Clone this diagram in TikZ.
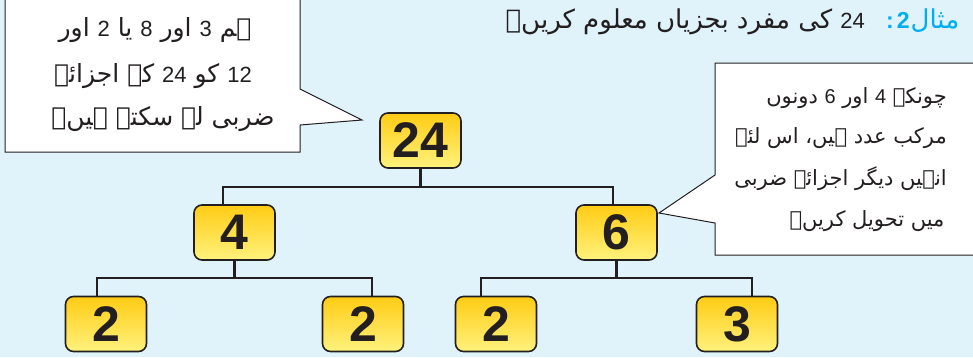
\documentclass[tikz,border=0pt]{standalone}
\usepackage{fontspec}
\setmainfont{Liberation Sans}
\newfontfamily\urdu[Script=Arabic]{DejaVu Sans}
\TeXXeTstate=1
\definecolor{bg}{RGB}{224,243,251}
\definecolor{ink}{RGB}{35,31,32}
\definecolor{ytop}{RGB}{255,204,20}
\definecolor{ybot}{RGB}{255,242,125}
\definecolor{cyanT}{RGB}{0,174,239}
\newcommand{\dg}[1]{\beginL{\rmfamily\fontsize{22}{26}\selectfont #1}\endL{}}
\newcommand{\dgs}[1]{\beginL{\rmfamily\fontsize{20}{24}\selectfont #1}\endL{}}
\tikzset{
  numbox/.style={draw=ink, line width=1.6pt, rounded corners=8pt,
    top color=ytop, bottom color=ybot, minimum width=81pt, minimum height=55pt,
    inner sep=0pt, font=\fontsize{50}{50}\selectfont\bfseries, text=ink},
  conn/.style={draw=ink, line width=2.2pt},
  callout/.style={draw=ink, line width=1pt, fill=white, line join=miter},
  utext/.style={inner sep=0pt, text=ink, font=\urdu\fontsize{25}{30}\selectfont},
  rtext/.style={inner sep=0pt, text=ink, font=\urdu\fontsize{21}{25}\selectfont},
  ttext/.style={inner sep=0pt, font=\urdu\fontsize{26}{30}\selectfont}
}
\begin{document}
\begin{tikzpicture}[x=1pt,y=-1pt]
\useasboundingbox (0,0) rectangle (973,357);
\clip (0,0) rectangle (973,357);
\fill[bg] (0,0) rectangle (973,357);

% title
\node[ttext, text=cyanT, anchor=base west] (title1) at (886,28)
  {\beginR مثال\kern1pt{\rmfamily\bfseries\fontsize{23}{26}\selectfont 2}\kern3pt{\rmfamily\bfseries\fontsize{23}{26}\selectfont :}\endR};
\node[ttext, text=ink, anchor=base east] (title2) at (865,28)
  {\beginR\dg{24}\kern8pt کی مفرد بجزیاں معلوم کریں۔\endR};

% number boxes
\node[numbox] (n24) at (420.5,140.5) {24};
\node[numbox] (n4) at (234.5,232.5) {4};
\node[numbox] (n6) at (616.5,232.5) {6};
\node[numbox] (b1) at (106,324) {2};
\node[numbox] (b2) at (363,324) {2};
\node[numbox] (b3) at (496,324) {2};
\node[numbox] (b4) at (737,324) {3};

% connectors
\coordinate (j1) at (420.5,187);
\coordinate (j2) at (234.5,278);
\coordinate (j3) at (616.5,278);
\draw[conn] (n24.south) -- (j1);
\draw[conn] (j1) -| ([xshift=-11.5pt]n4.north);
\draw[conn] (j1) -| ([xshift=-3.5pt]n6.north);
\draw[conn] (n4.south) -- (j2);
\draw[conn] (j2) -| ([xshift=-9pt]b1.north);
\draw[conn] (j2) -| ([xshift=9pt]b2.north);
\draw[conn] (n6.south) -- (j3);
\draw[conn] (j3) -| ([xshift=-15pt]b3.north);
\draw[conn] (j3) -| ([xshift=15pt]b4.north);

% left callout
\coordinate (tipL) at (362,120);
\draw[callout] (5,-3) -- (300,-3) -- (300,89) -- (tipL) -- (300,125) -- (300,152) -- (5,152) -- cycle;
\node[utext, anchor=base] (l1) at (155,36) {\beginR ہم \dg{3} اور \dg{8} یا \dg{2} اور\endR};
\node[utext, anchor=base] (l2) at (153,82) {\beginR\dg{12} کو \dg{24} کے اجزائے\endR};
\node[utext, anchor=base] (l3) at (163,125) {\beginR ضربی لے سکتے ہیں۔\endR};

% right callout
\coordinate (tipR) at (659,213);
\draw[callout] (715,63) -- (985,63) -- (985,255) -- (715,255) -- (715,223) -- (tipR) -- (715,175) -- cycle;
\node[rtext, anchor=base east] (r1) at (947,103) {\beginR چونکہ \dgs{4} اور \dgs{6} دونوں\endR};
\node[rtext, anchor=base east] (r2) at (947,143) {\beginR مرکب عدد ہیں، اس لئے\endR};
\node[rtext, anchor=base east] (r3) at (947,185) {\beginR انہیں دیگر اجزائے ضربی\endR};
\node[rtext, anchor=base] (r4) at (867,226) {\beginR میں تحویل کریں۔\endR};
\end{tikzpicture}
\end{document}
